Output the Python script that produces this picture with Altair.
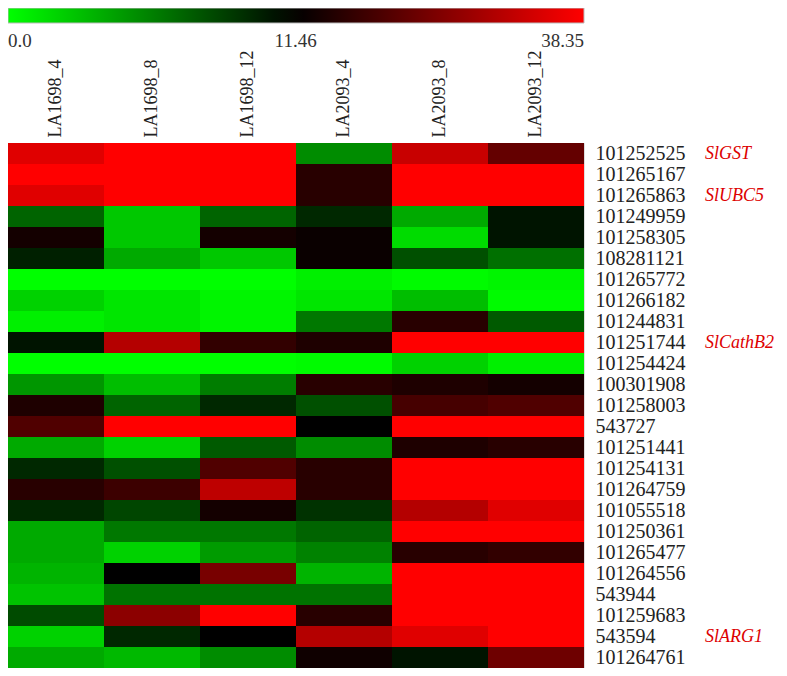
import altair as alt
import pandas as pd

samples = ["LA1698_4", "LA1698_8", "LA1698_12", "LA2093_4", "LA2093_8", "LA2093_12"]

genes = ["101252525", "101265167", "101265863", "101249959", "101258305",
         "108281121", "101265772", "101266182", "101244831", "101251744",
         "101254424", "100301908", "101258003", "543727", "101251441",
         "101254131", "101264759", "101055518", "101250361", "101265477",
         "101264556", "543944", "101259683", "543594", "101264761"]

la1698_4 = [34.38, 38.35, 34.38, 4.82, 13.07, 9.08, 0, 0.56, 0.08, 9.94, 0, 2.45, 13.91,
            18.44, 1.70, 8.52, 14.77, 8.52, 1.70, 1.70, 1.36, 0.93, 6.25, 0.56, 1.70]
la1698_8 = [38.35, 38.35, 38.35, 0.80, 0.80, 1.70, 0, 0.20, 0.20, 29.07, 0, 1.06, 4.82,
            38.35, 0.56, 5.95, 16.57, 6.56, 3.79, 0.56, 11.46, 4.04, 24.58, 8.52, 1.21]
la1698_12 = [38.35, 38.35, 38.35, 4.82, 13.07, 0.80, 0, 0.04, 0.04, 15.66, 0, 3.55, 8.52,
             38.35, 5.37, 18.44, 30.25, 13.07, 3.79, 2.25, 22.45, 4.04, 38.35, 11.46, 2.87]
la2093_4 = [2.87, 14.77, 14.77, 8.52, 12.26, 12.26, 0.08, 0.20, 3.79, 13.91, 0.01, 14.77, 5.95,
            11.46, 2.87, 14.77, 14.77, 7.84, 4.82, 3.32, 1.36, 4.04, 14.77, 29.07, 12.66]
la2093_8 = [31.44, 38.35, 38.35, 1.70, 0.36, 5.95, 0.01, 1.06, 14.77, 38.35, 0.56, 13.91, 17.50,
            38.35, 13.91, 38.35, 38.35, 29.07, 38.35, 14.77, 38.35, 38.35, 38.35, 34.38, 9.94]
la2093_12 = [20.40, 38.35, 38.35, 9.94, 9.94, 4.19, 0.04, 0.01, 5.37, 38.35, 0.08, 13.07, 18.44,
             38.35, 14.77, 38.35, 38.35, 34.38, 38.35, 15.66, 38.35, 38.35, 38.35, 38.35, 21.41]

legend_values = [0, 11.46, 38.35]

marked_genes = ["101252525", "101265863", "101251744", "543594"]
marked_names = ["SlGST", "SlUBC5", "SlCathB2", "SlARG1"]

columns = [la1698_4, la1698_8, la1698_12, la2093_4, la2093_8, la2093_12]
rows = []
for s, col in zip(samples, columns):
    for g, v in zip(genes, col):
        rows.append({"sample": s, "gene": g, "value": v})
df = pd.DataFrame(rows)
names_df = pd.DataFrame({"gene": marked_genes, "name": marked_names})

serif = "Liberation Serif"
TOP = 135

heat = alt.Chart(df).mark_rect().encode(
    x=alt.X("sample:N", scale=alt.Scale(domain=samples),
            axis=alt.Axis(orient="top", title=None, labelAngle=270, ticks=False, domain=False,
                          grid=False, labelFont=serif, labelFontSize=18, labelColor="#222",
                          labelPadding=6)),
    y=alt.Y("gene:N", scale=alt.Scale(domain=genes),
            axis=alt.Axis(orient="right", title=None, ticks=False, domain=False, grid=False,
                          labelFont=serif, labelFontSize=20, labelColor="#222",
                          labelPadding=11)),
    color=alt.Color("value:Q",
                    scale=alt.Scale(type="pow", exponent=0.575, domain=legend_values,
                                    range=["#00ff00", "#000000", "#ff0000"], interpolate="rgb"),
                    legend=alt.Legend(orient="none", legendX=0, legendY=-TOP,
                                      direction="horizontal", title=None,
                                      gradientLength=576, gradientThickness=15,
                                      gradientStrokeColor="#bbbbbb", gradientStrokeWidth=1,
                                      values=legend_values,
                                      labelExpr="datum.value == 0 ? '0.0' : format(datum.value, '.2f')",
                                      labelFont=serif, labelFontSize=19, labelColor="#333",
                                      labelOffset=9)),
)

names = alt.Chart(names_df).mark_text(
    align="left", baseline="middle", font="Liberation Serif", fontStyle="italic",
    fontSize=18, color="#dd0000"
).encode(
    y=alt.Y("gene:N", scale=alt.Scale(domain=genes)),
    x=alt.value(697),
    text="name:N",
)

chart = alt.layer(heat, names).properties(
    width=576, height=525,
    autosize=alt.AutoSizeParams(type="none"),
    padding={"left": 0, "top": TOP, "right": 195, "bottom": 0},
).configure_view(stroke="#aaaaaa", strokeWidth=1).configure(background="white")

chart.save("out.html", embed_options={"renderer": "svg", "actions": False})
